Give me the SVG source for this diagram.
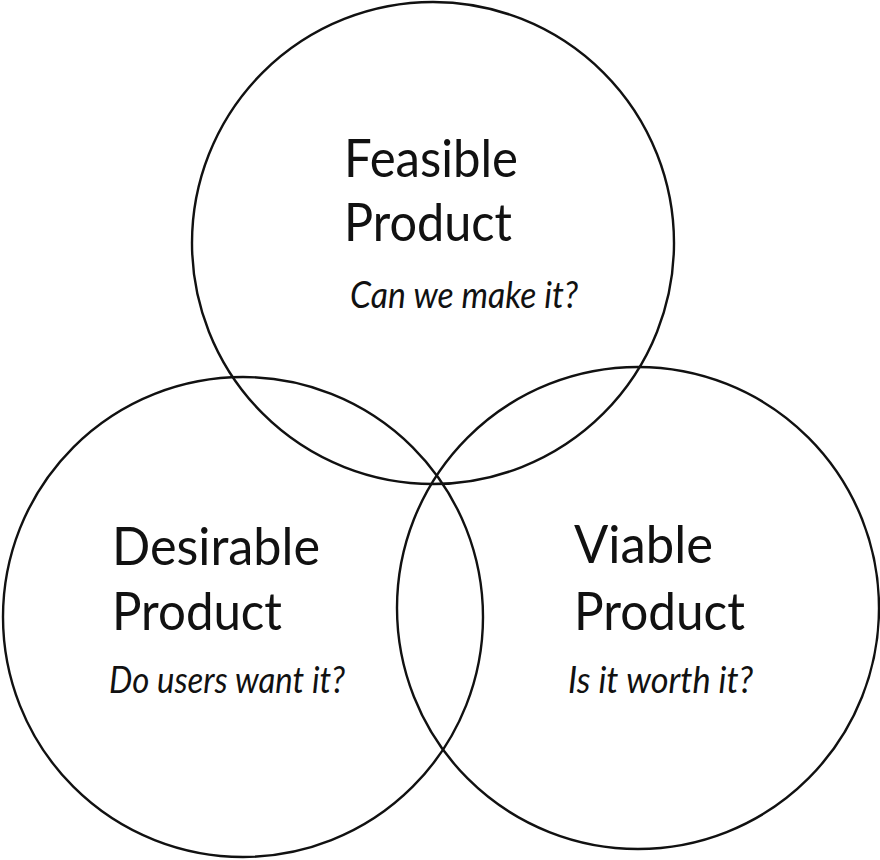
<svg xmlns="http://www.w3.org/2000/svg" width="880" height="860" viewBox="0 0 880 860">
<style>
.c{fill:none;stroke:#111;stroke-width:2.4}
.t{font-family:Lato,"Open Sans","Liberation Sans",sans-serif;font-size:53px;fill:#111}
.q{font-family:Lato,"Open Sans","Liberation Sans",sans-serif;font-size:37px;font-style:italic;fill:#111}
</style>
<rect width="880" height="860" fill="#fff"/>
<g id="feasible">
<circle class="c" cx="433" cy="243" r="241"/>
<text class="t" x="344" y="177" textLength="174" lengthAdjust="spacingAndGlyphs">Feasible</text>
<text class="t" x="344" y="241" textLength="168" lengthAdjust="spacingAndGlyphs">Product</text>
<text class="q" x="350" y="308" textLength="228" lengthAdjust="spacingAndGlyphs">Can we make it?</text>
</g>
<g id="desirable">
<circle class="c" cx="243" cy="617" r="240"/>
<text class="t" x="112" y="565" textLength="208" lengthAdjust="spacingAndGlyphs">Desirable</text>
<text class="t" x="112" y="630" textLength="170" lengthAdjust="spacingAndGlyphs">Product</text>
<text class="q" x="109" y="693" textLength="236" lengthAdjust="spacingAndGlyphs">Do users want it?</text>
</g>
<g id="viable">
<circle class="c" cx="638" cy="608" r="241"/>
<text class="t" x="574" y="563" textLength="139" lengthAdjust="spacingAndGlyphs">Viable</text>
<text class="t" x="574" y="630" textLength="171" lengthAdjust="spacingAndGlyphs">Product</text>
<text class="q" x="568" y="693" textLength="185" lengthAdjust="spacingAndGlyphs">Is it worth it?</text>
</g>
<g id="connectors"></g>
</svg>
